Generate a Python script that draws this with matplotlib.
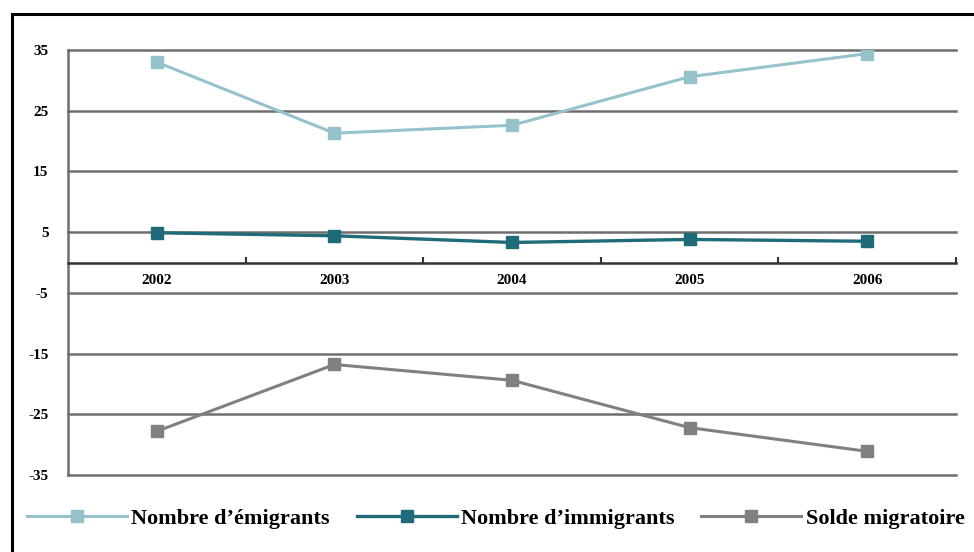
import matplotlib.pyplot as plt
from matplotlib.patches import Rectangle

years = ["2002", "2003", "2004", "2005", "2006"]
emigrants = [33.0, 21.3, 22.6, 30.6, 34.4]
immigrants = [4.9, 4.4, 3.3, 3.8, 3.5]
solde = [-27.8, -16.8, -19.4, -27.2, -31.1]
yticks = [35, 25, 15, 5, -5, -15, -25, -35]

plt.rcParams['font.family'] = ['Liberation Serif', 'DejaVu Serif']
plt.rcParams['font.weight'] = 'bold'

fig = plt.figure(figsize=(9.74, 5.52), dpi=100)
ax = fig.add_axes([0.0698, 0.1395, 0.9117, 0.7699])

x = list(range(len(years)))
ax.plot(x, emigrants, color='#96c3cb', lw=2.2, marker='s', ms=8.5, label="Nombre d\u2019émigrants")
ax.plot(x, immigrants, color='#1f6b7a', lw=2.4, marker='s', ms=8.5, label="Nombre d\u2019immigrants")
ax.plot(x, solde, color='#808080', lw=2.2, marker='s', ms=8.5, label="Solde migratoire")

ax.set_xlim(-0.5, len(years) - 0.5)
ax.set_ylim(-35, 35)
ax.set_yticks(yticks)
ax.set_yticklabels([str(v) for v in yticks], fontsize=11, fontweight='bold')
ax.tick_params(axis='y', length=0, pad=14)
ax.grid(axis='y', color='#6e6e6e', lw=1.8)
for gl in ax.get_ygridlines():
    gl.set_clip_on(False)
ax.set_axisbelow(True)

ax.spines['bottom'].set_position(('data', 0))
ax.spines['bottom'].set_color('#333333')
ax.spines['bottom'].set_linewidth(1.8)
ax.spines['left'].set_color('#6e6e6e')
ax.spines['left'].set_linewidth(1.8)
ax.spines['right'].set_visible(False)
ax.spines['top'].set_visible(False)

ax.set_xticks(x)
ax.set_xticklabels(years, fontsize=11, fontweight='bold')
ax.set_xticks([i + 0.5 for i in x], minor=True)
ax.tick_params(axis='x', which='major', length=0, pad=8)
ax.tick_params(axis='x', which='minor', direction='in', length=4, width=1.5, color='#333333')

fig.legend(loc='center', bbox_to_anchor=(0.509, 0.06), ncol=3, frameon=False,
           handlelength=4.5, handletextpad=0.2, columnspacing=1.2,
           prop={'family': 'Liberation Serif', 'weight': 'bold', 'size': 16})

fig.patches.append(Rectangle((12 / 974, -0.1), 1.2, 1 - 14 / 552 + 0.1,
                             transform=fig.transFigure, fill=False,
                             edgecolor='black', lw=2.2))

fig.savefig('out.png', dpi=100)
